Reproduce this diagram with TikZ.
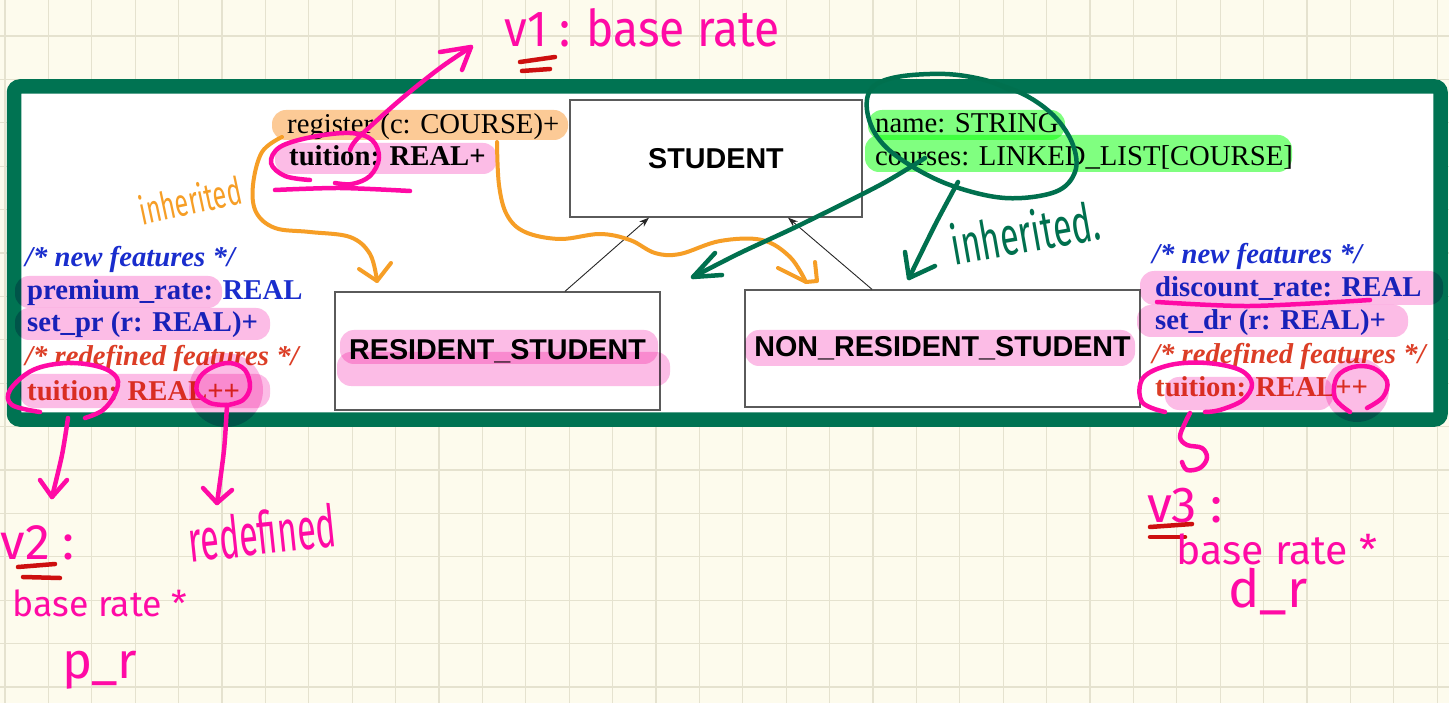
\documentclass[tikz,border=0pt]{standalone}
\usepackage{fontspec}
\setmainfont{Liberation Serif}
\setsansfont{Liberation Sans}
\newfontfamily\handfont{Fira Sans}
\usetikzlibrary{arrows.meta}

\definecolor{paper}{RGB}{253,251,237}
\definecolor{gridc}{RGB}{229,226,207}
\definecolor{panelgreen}{RGB}{0,115,82}
\definecolor{boxgray}{RGB}{90,90,90}
\definecolor{hlpink}{RGB}{252,188,230}
\definecolor{hlorange}{RGB}{252,202,150}
\definecolor{hlgreen}{RGB}{128,255,128}
\definecolor{featblue}{RGB}{25,45,205}
\definecolor{featred}{RGB}{220,62,38}
\definecolor{inkmag}{RGB}{255,10,165}
\definecolor{inkorange}{RGB}{246,158,38}
\definecolor{inkgreen}{RGB}{0,112,78}
\definecolor{inkred}{RGB}{205,15,15}

\tikzset{
  gridline/.style={draw=gridc, line width=1.2pt},
  attr/.style={anchor=base west, inner sep=0pt, font={\fontsize{28.7}{33}\selectfont}},
  clsbox/.style={draw=boxgray, line width=1.3pt, fill=white, inner sep=0pt},
  clsname/.style={inner sep=0pt, font={\sffamily\bfseries\fontsize{28.7}{33}\selectfont}},
  hl/.style={blend mode=multiply, rounded corners=14pt},
  inh/.style={-{Stealth[length=10pt,width=7pt]}, line width=0.9pt, black!85},
  ink/.style={line width=4.5pt, line cap=round, line join=round},
  hand/.style={inner sep=0pt}
}

\begin{document}
\begin{tikzpicture}[x=1pt,y=-1pt]
\useasboundingbox (0,0) rectangle (1449,703);
% paper and grid
\fill[paper] (0,0) rectangle (1449,703);
\foreach \i in {0,...,33} {\draw[gridline] ({4.9+43.4*\i},0) -- ({4.9+43.4*\i},703);}
\foreach \j in {1,...,16} {\draw[gridline] (0,{-7.4+43.4*\j}) -- (1449,{-7.4+43.4*\j});}

% slide panel
\draw[line width=14.5pt, draw=panelgreen, fill=white, rounded corners=6pt] (14,86.5) rectangle (1440.5,419.5);

% class boxes
\node[clsbox, minimum width=292pt, minimum height=117pt] (stu) at (716,158.5) {};
\node[clsbox, minimum width=325pt, minimum height=118pt] (res) at (497.5,351) {};
\node[clsbox, minimum width=395pt, minimum height=117pt] (nres) at (942.5,348.5) {};
\node[clsname] (stuname) at (stu) {STUDENT};
\node[clsname] (resname) at (res) {RESIDENT\_STUDENT};
\node[clsname] (nresname) at (nres) {NON\_RESIDENT\_STUDENT};

% inheritance
\draw[inh] ([xshift=67.5pt]res.north) -- ([xshift=-67pt]stu.south);
\draw[inh] ([xshift=-70.5pt]nres.north) -- ([xshift=72pt]stu.south);

% STUDENT features
\node[attr] (reg) at (287,134) {register (c: COURSE)+};
\node[attr, font={\bfseries\fontsize{28.7}{33}\selectfont}] (tui) at (289,166) {tuition: REAL+};
\node[attr] (nam) at (875,133) {name: STRING};
\node[attr] (crs) at (875,166) {courses: LINKED\_LIST[COURSE]};

% RESIDENT_STUDENT features
\node[attr, text=featblue, font={\bfseries\itshape\fontsize{28.7}{33}\selectfont}] (lnew) at (25,267) {/* new features */};
\node[attr, text=featblue, font={\bfseries\fontsize{28.7}{33}\selectfont}] (prate) at (27,300) {premium\_rate: REAL};
\node[attr, text=featblue, font={\bfseries\fontsize{28.7}{33}\selectfont}] (setpr) at (27,332) {set\_pr (r: REAL)+};
\node[attr, text=featred, font={\bfseries\itshape\fontsize{28.7}{33}\selectfont}] (lred) at (25,366) {/* redefined features */};
\node[attr, text=featred, font={\bfseries\fontsize{28.7}{33}\selectfont}] (ltui) at (27,400) {tuition: REAL++};

% NON_RESIDENT_STUDENT features
\node[attr, text=featblue, font={\bfseries\itshape\fontsize{28.7}{33}\selectfont}] (rnew) at (1152,264) {/* new features */};
\node[attr, text=featblue, font={\bfseries\fontsize{28.7}{33}\selectfont}] (drate) at (1155,297) {discount\_rate: REAL};
\node[attr, text=featblue, font={\bfseries\fontsize{28.7}{33}\selectfont}] (setdr) at (1155,330) {set\_dr (r: REAL)+};
\node[attr, text=featred, font={\bfseries\itshape\fontsize{28.7}{33}\selectfont}] (rred) at (1152,363) {/* redefined features */};
\node[attr, text=featred, font={\bfseries\fontsize{28.7}{33}\selectfont}] (rtui) at (1155,396) {tuition: REAL++};

% highlighter marks
\fill[hl, hlorange] (272,110) rectangle (568,140);
\fill[hl, hlpink] (275,143) rectangle (497,174);
\fill[hl, hlgreen] (868,110) rectangle (1065,140);
\fill[hl, hlgreen] (865,135) rectangle (1292,172);
\fill[hl, hlpink] (340,330) rectangle (658,364);
\fill[hl, hlpink] (337,352) rectangle (670,386);
\fill[hl, hlpink] (745,330) rectangle (1135,366);
\fill[hl, hlpink] (15,276) rectangle (222,308);
\fill[hl, hlpink] (15,308) rectangle (270,340);
\fill[hl, hlpink] (20,374) rectangle (270,408);
\fill[hl, hlpink] (1140,271) rectangle (1443,305);
\fill[hl, hlpink] (1137,305) rectangle (1408,337);
\fill[hl, hlpink] (1165,377) rectangle (1333,410);
\fill[hl, hlpink] (226,390) circle (37);
\fill[hl, hlpink] (1357,390) circle (32);

% handwritten notes: base rate
\node[hand, text=inkmag] (v1) at (642,28) {\resizebox{275pt}{38pt}{\handfont v1 : base rate}};
\draw[ink, inkred] (520,62) -- (555,57);
\draw[ink, inkred] (522,71) -- (550,69);
\draw[ink, inkmag] plot[smooth, tension=0.6] coordinates {(310,180) (285,176) (271,163) (280,147) (312,137) (350,133) (372,140) (379,158) (370,176) (352,184) (335,183)};
\coordinate (v1tip) at (471,47);
\draw[ink, inkmag] plot[smooth] coordinates {(350,150) (358,138) (400,100) (440,68) (v1tip)};
\draw[ink, inkmag] (440,52) -- (v1tip) -- (462,70);
\draw[ink, inkmag] plot[smooth] coordinates {(275,190) (340,188) (410,191)};

% inherited (orange)
\node[hand, text=inkorange, rotate=12] (inhL) at (190,200) {\resizebox{104pt}{30pt}{\handfont inherited}};
\coordinate (o1tip) at (377,281);
\draw[ink, inkorange, line width=4pt] plot[smooth, tension=0.6] coordinates {(282,137) (262,152) (253,185) (256,212) (275,228) (310,232) (350,237) (370,254) (o1tip)};
\draw[ink, inkorange, line width=4pt] (359,269) -- (o1tip) -- (391,263);
\coordinate (o2tip) at (806,282);
\draw[ink, inkorange, line width=4pt] plot[smooth, tension=0.6] coordinates {(497,142) (499,185) (507,215) (525,232) (560,239) (600,234) (630,240) (655,253) (680,254) (720,241) (762,240) (790,257) (o2tip)};
\draw[ink, inkorange, line width=4pt] (778,268) -- (o2tip) -- (817,281) -- (815,262);

% inherited (green)
\draw[ink, inkgreen] plot[smooth, tension=0.6] coordinates {(985,80) (1025,95) (1055,117) (1073,145) (1075,172) (1055,192) (1005,198) (950,185) (905,162) (878,138) (867,110) (872,88) (897,77) (945,74) (985,80) (1010,90)};
\coordinate (g1tip) at (693,277);
\draw[ink, inkgreen] plot[smooth] coordinates {(925,158) (880,185) (800,225) (740,253) (g1tip)};
\draw[ink, inkgreen] (715,253) -- (g1tip) -- (722,275);
\coordinate (g2tip) at (909,278);
\draw[ink, inkgreen] plot[smooth] coordinates {(958,182) (935,225) (g2tip)};
\draw[ink, inkgreen] (905,252) -- (g2tip) -- (935,266);
\node[hand, text=inkgreen, rotate=10] (inhR) at (1025,232) {\resizebox{150pt}{42pt}{\handfont inherited.}};

% resident notes
\draw[ink, inkmag] plot[smooth, tension=0.6] coordinates {(40,412) (12,405) (10,390) (33,370) (67,363) (100,367) (117,378) (115,394) (103,410) (85,418)};
\coordinate (v2tip) at (52,497);
\draw[ink, inkmag] plot[smooth] coordinates {(68,418) (62,455) (v2tip)};
\draw[ink, inkmag] (40,480) -- (v2tip) -- (67,480);
\draw[ink, inkmag] plot[smooth, tension=0.6] coordinates {(228,405) (210,403) (197,392) (200,377) (213,367) (230,363) (245,370) (250,387) (243,400) (228,405)};
\coordinate (rdtip) at (217,503);
\draw[ink, inkmag] plot[smooth] coordinates {(227,405) (224,450) (rdtip)};
\draw[ink, inkmag] (203,488) -- (rdtip) -- (232,490);
\node[hand, text=inkmag] (v2) at (38,543) {\resizebox{74pt}{!}{\handfont v2 :}};
\draw[ink, inkred] (18,567) -- (55,564);
\draw[ink, inkred] (23,577) -- (60,578);
\node[hand, text=inkmag] (v2a) at (100,603) {\resizebox{174pt}{!}{\handfont base rate *}};
\node[hand, text=inkmag] (v2b) at (100,670) {\resizebox{75pt}{!}{\handfont p\_r}};
\node[hand, text=inkmag, rotate=6] (redef) at (262,533) {\resizebox{148pt}{44pt}{\handfont redefined}};

% non-resident notes
\draw[ink, inkmag] plot[smooth] coordinates {(1157,302) (1250,306) (1370,300)};
\draw[ink, inkmag] plot[smooth, tension=0.6] coordinates {(1165,412) (1142,402) (1143,378) (1170,365) (1207,363) (1240,370) (1252,384) (1243,400) (1220,410) (1205,412)};
\draw[ink, inkmag] plot[smooth, tension=0.6] coordinates {(1350,412) (1335,398) (1337,377) (1353,367) (1373,368) (1387,381) (1383,397) (1367,408)};
\draw[ink, inkmag] plot[smooth, tension=0.6] coordinates {(1190,413) (1185,423) (1180,437) (1187,445) (1202,448) (1207,458) (1200,468) (1187,470) (1182,462)};
\node[hand, text=inkmag] (v3) at (1185,506) {\resizebox{75pt}{!}{\handfont v3 :}};
\draw[ink, inkred] (1150,527) -- (1192,524);
\draw[ink, inkred] (1150,537) -- (1185,537);
\node[hand, text=inkmag] (v3a) at (1277,549) {\resizebox{200pt}{!}{\handfont base rate *}};
\node[hand, text=inkmag] (v3b) at (1268,592) {\resizebox{79pt}{!}{\handfont d\_r}};
\end{tikzpicture}
\end{document}
